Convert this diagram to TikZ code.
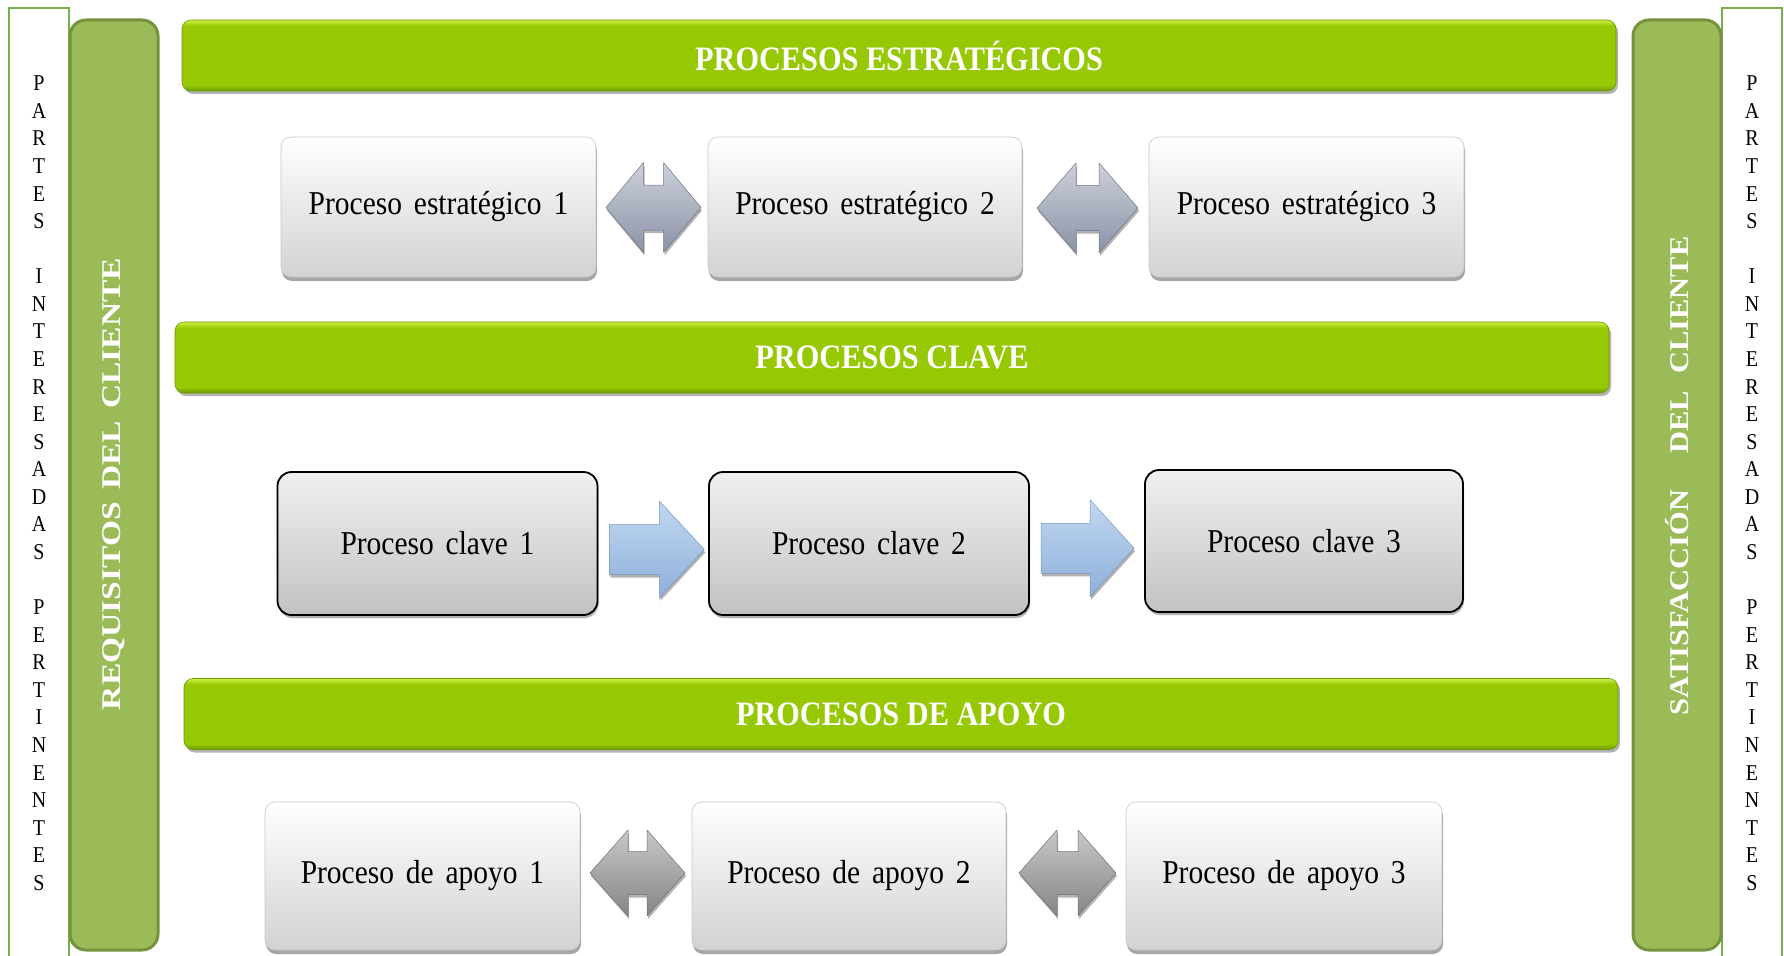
\documentclass[tikz,border=0pt]{standalone}
\usepackage{fontspec}
\setmainfont{Liberation Serif}
\usepackage{graphicx}
\usetikzlibrary{shadows,calc}

\definecolor{thingreen}{HTML}{77B14A}
\definecolor{barfill}{HTML}{9BBB59}
\definecolor{barline}{HTML}{76923C}
\definecolor{banmain}{HTML}{96C804}
\definecolor{banlight}{HTML}{C8EE40}
\definecolor{bandark}{HTML}{6E9800}
\definecolor{lbbot}{HTML}{D2D2D2}
\definecolor{kbtop}{HTML}{F0F0F0}
\definecolor{kbbot}{HTML}{C2C2C2}
\definecolor{sattop}{HTML}{CDD1DC}
\definecolor{satbot}{HTML}{8C92A6}
\definecolor{kattop}{HTML}{C2D8F2}
\definecolor{katbot}{HTML}{8EAFDA}
\definecolor{aattop}{HTML}{C8C8C8}
\definecolor{aatbot}{HTML}{858585}

\pgfdeclareverticalshading{bannershade}{100bp}{color(0bp)=(bandark); color(25bp)=(bandark); color(29bp)=(banmain); color(71bp)=(banmain); color(74.5bp)=(banlight); color(100bp)=(banlight)}

\newcommand\procfont{\fontsize{29.5}{34}\selectfont\spaceskip=0.4em\relax}
\newcommand\banfont{\fontsize{30.3}{36}\selectfont\bfseries}
\newcommand\sidefont{\fontsize{27}{32}\selectfont\bfseries}
\newcommand\colfont{\fontsize{20}{24.4}\selectfont}
\newcommand\vstretch[1]{\scalebox{1}[1.13]{#1}}
\newcommand\partescol{\begin{tabular}{@{}c@{}}P\\A\\R\\T\\E\\S\\ \\I\\N\\T\\E\\R\\E\\S\\A\\D\\A\\S\\ \\P\\E\\R\\T\\I\\N\\E\\N\\T\\E\\S\end{tabular}}
% block arrows: #1 style, #2 centre, #3 half length, #4 half head width, #5 half shaft width, #6 head length
\newcommand\dblarrow[6]{\path[#1, shift={(#2)}] ({-#3},0) -- ({-#3+#6},{-#4}) -- ({-#3+#6},{-#5}) -- ({#3-#6},{-#5}) -- ({#3-#6},{-#4}) -- (#3,0) -- ({#3-#6},#4) -- ({#3-#6},#5) -- ({-#3+#6},#5) -- ({-#3+#6},#4) -- cycle;}
\newcommand\sglarrow[6]{\path[#1, shift={(#2)}] ({-#3},{-#5}) -- ({#3-#6},{-#5}) -- ({#3-#6},{-#4}) -- (#3,0) -- ({#3-#6},#4) -- ({#3-#6},#5) -- ({-#3},#5) -- cycle;}

\begin{document}
\begin{tikzpicture}[x=1pt,y=-1pt,
  thinbox/.style={draw=thingreen, line width=2pt, fill=white, inner sep=0pt, minimum width=60pt, minimum height=965pt},
  colletters/.style={inner sep=0pt, font=\colfont, text=black},
  tallbar/.style={draw=barline, line width=3pt, fill=barfill, rounded corners=16pt, inner sep=0pt, minimum width=88pt, minimum height=930pt},
  sidelabel/.style={inner sep=0pt, text=white, font=\sidefont, rotate=90},
  banner/.style={shading=bannershade, draw=bandark, line width=0.6pt, rounded corners=9pt, inner sep=0pt, minimum width=1434pt, minimum height=71pt, text=white, font=\banfont, drop shadow={opacity=0.3, shadow xshift=2pt, shadow yshift=-3pt, fill=black}},
  lightbox/.style={rounded corners=10pt, draw=black!22, line width=0.6pt, top color=white, bottom color=lbbot, inner sep=0pt, font=\procfont, text=black, drop shadow={opacity=0.35, shadow xshift=1pt, shadow yshift=-4pt, fill=black}},
  keybox/.style={rounded corners=14pt, draw=black, line width=1.8pt, top color=kbtop, bottom color=kbbot, inner sep=0pt, font=\procfont, text=black, drop shadow={opacity=0.3, shadow xshift=1pt, shadow yshift=-3pt, fill=black}},
  arrowshadow/.style={drop shadow={opacity=0.3, shadow xshift=1pt, shadow yshift=-3pt, fill=black}},
  stratarrow/.style={top color=sattop, bottom color=satbot, draw=satbot!80!black, line width=0.5pt, line join=round, arrowshadow},
  keyarrow/.style={top color=kattop, bottom color=katbot, draw=katbot!85!black, line width=0.5pt, line join=round, arrowshadow},
  apoyoarrow/.style={top color=aattop, bottom color=aatbot, draw=aatbot!85!black, line width=0.5pt, line join=round, arrowshadow}
]
\path[use as bounding box, fill=white] (0,0) rectangle (1784,955);

% outer thin boxes with vertical letters
\node[thinbox, anchor=north] (pl) at (39,7) {};
\node[thinbox, anchor=north] (pr) at (1752,7) {};
\node[colletters] (plt) at (39,485) {\vstretch{\partescol}};
\node[colletters] (prt) at (1752,485) {\vstretch{\partescol}};

% tall green bars
\node[tallbar] (rq) at (114,485) {};
\node[tallbar] (sc) at (1677,485) {};
\node[sidelabel] (rqt) at (114,484) {\scalebox{1.24}[1]{REQUISITOS\hspace{10pt}DEL\hspace{10pt}CLIENTE}};
\node[sidelabel] (sct) at (1677,476) {\scalebox{1.13}[1]{SATISFACCIÓN\hspace{32pt}DEL\hspace{15pt}CLIENTE}};

% banners
\node[banner] (be) at (899,55.5) {\vstretch{PROCESOS ESTRATÉGICOS}};
\node[banner] (bc) at (892,357.5) {\vstretch{PROCESOS CLAVE}};
\node[banner] (ba) at (901,714) {\vstretch{PROCESOS DE APOYO}};

% strategic processes
\node[lightbox, minimum width=315pt, minimum height=140pt] (s1) at (438.5,207) {\vstretch{Proceso estratégico 1}};
\node[lightbox, minimum width=314pt, minimum height=140pt] (s2) at (865,207) {\vstretch{Proceso estratégico 2}};
\node[lightbox, minimum width=315pt, minimum height=140pt] (s3) at (1306.5,207) {\vstretch{Proceso estratégico 3}};

% key processes
\node[keybox, minimum width=320pt, minimum height=143pt] (k1) at (437.5,543.5) {\vstretch{Proceso clave 1}};
\node[keybox, minimum width=320pt, minimum height=143pt] (k2) at (869,543.5) {\vstretch{Proceso clave 2}};
\node[keybox, minimum width=318pt, minimum height=142pt] (k3) at (1304,541) {\vstretch{Proceso clave 3}};

% support processes
\node[lightbox, minimum width=315pt, minimum height=148pt] (a1) at (422.5,876) {\vstretch{Proceso de apoyo 1}};
\node[lightbox, minimum width=314pt, minimum height=148pt] (a2) at (849,876) {\vstretch{Proceso de apoyo 2}};
\node[lightbox, minimum width=316pt, minimum height=148pt] (a3) at (1284,876) {\vstretch{Proceso de apoyo 3}};

% block arrows between boxes
\coordinate (sa1) at ($(s1.east)!0.5!(s2.west)+(1.5,0.5)$);
\coordinate (sa2) at ($(s2.east)!0.5!(s3.west)+(2,1)$);
\coordinate (ka1) at ($(k1.east)!0.5!(k2.west)+(3.5,6)$);
\coordinate (ka2) at ($(k2.east)!0.5!(k3.west)+(0.5,6)$);
\coordinate (aa1) at ($(a1.east)!0.5!(a2.west)+(1.5,-3)$);
\coordinate (aa2) at ($(a2.east)!0.5!(a3.west)+(1.5,-3)$);

\dblarrow{stratarrow}{sa1}{47.5}{45}{22.5}{37.5}
\dblarrow{stratarrow}{sa2}{50.5}{45}{22.5}{39}
\sglarrow{keyarrow}{ka1}{47.5}{48.5}{25}{45}
\sglarrow{keyarrow}{ka2}{46.5}{48.5}{25}{44}
\dblarrow{apoyoarrow}{aa1}{47.5}{43}{21.5}{38}
\dblarrow{apoyoarrow}{aa2}{48.5}{43}{21.5}{38}
\end{tikzpicture}
\end{document}
